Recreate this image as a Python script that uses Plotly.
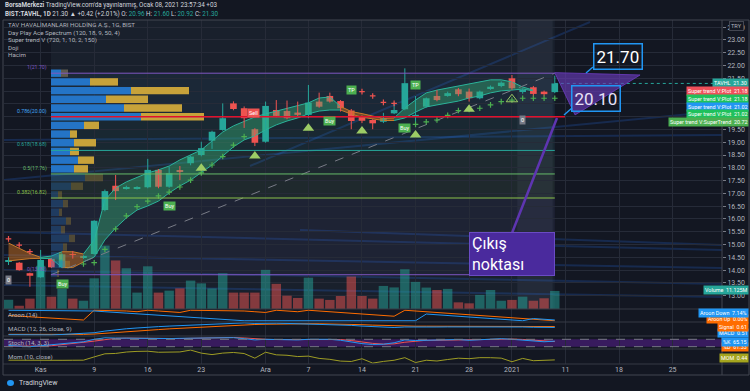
import plotly.graph_objects as go

# ---------------- data ----------------
bar_index = list(range(-3, 49))
open_ = [14.35, 14.29, 13.88, 13.72, 14.44, 14.11, 14.62, 14.50, 14.63, 16.35,
         17.30, 17.19, 17.20, 17.24, 17.92, 17.26, 17.88, 18.18, 18.50, 19.06,
         19.48, 20.52, 20.33, 19.51, 19.02, 20.26, 20.22, 20.16, 20.07, 20.59,
         20.81, 20.61, 20.24, 20.00, 19.87, 19.80, 20.13, 20.29, 20.00, 20.39,
         20.81, 20.81, 21.07, 20.98, 20.72, 21.11, 21.20, 21.50, 20.98, 21.15,
         20.98, 20.96]
high = [14.50, 14.32, 13.90, 14.79, 14.47, 14.65, 14.75, 14.58, 15.95, 17.15,
        17.72, 17.30, 17.28, 18.35, 17.95, 18.05, 18.07, 18.48, 19.02, 19.45,
        20.52, 20.60, 20.40, 19.55, 20.59, 20.65, 20.63, 20.59, 21.24, 20.94,
        20.94, 20.65, 20.30, 20.05, 19.90, 20.15, 20.56, 21.89, 20.81, 20.75,
        21.04, 20.98, 21.12, 21.10, 21.02, 21.22, 21.38, 21.63, 21.10, 21.20,
        21.02, 21.60]
low = [14.20, 13.98, 13.35, 13.70, 14.08, 14.08, 14.45, 14.44, 14.60, 16.30,
       16.74, 17.15, 17.15, 17.20, 17.20, 17.22, 17.52, 18.10, 18.45, 18.74,
       19.45, 20.25, 19.56, 18.85, 18.98, 19.98, 19.90, 20.02, 19.94, 20.35,
       20.55, 20.20, 19.51, 19.75, 19.51, 19.75, 20.10, 20.25, 19.68, 20.35,
       20.60, 20.78, 20.80, 20.59, 20.68, 21.05, 21.15, 21.05, 20.90, 20.78,
       20.80, 20.92]
close = [14.36, 14.00, 13.78, 14.40, 14.11, 14.62, 14.60, 14.52, 15.93, 17.09,
         17.09, 17.23, 17.24, 17.92, 17.26, 17.79, 17.86, 18.44, 18.77, 19.41,
         19.94, 20.30, 19.94, 18.98, 20.42, 20.03, 19.94, 20.07, 20.55, 20.39,
         20.59, 20.33, 19.83, 19.84, 19.74, 19.94, 20.26, 21.31, 20.07, 20.72,
         20.65, 20.92, 20.88, 20.72, 20.98, 21.17, 21.33, 21.11, 21.04, 20.89,
         20.88, 21.30]
volume_m = [5.7, 2.0, 6.4, 26.6, 7.6, 12.4, 6.4, 5.1, 18.9, 39.1,
            29.9, 25.1, 10.1, 26.3, 10.1, 11.3, 12.7, 17.5, 15.8, 12.7,
            22.0, 10.1, 10.1, 10.1, 24.1, 15.5, 8.2, 6.8, 19.3, 6.4,
            5.6, 8.0, 20.0, 8.0, 6.4, 14.2, 13.3, 24.5, 16.7, 13.2,
            11.7, 12.4, 4.1, 3.5, 8.7, 11.7, 5.1, 5.6, 7.6, 5.1,
            6.6, 11.125]

tick_index = [0, 5, 10, 15, 21, 25, 30, 35, 40, 44, 49, 54, 59]
tick_text = ["Kas", "9", "16", "23", "Ara", "7", "14", "21", "28", "2021", "11", "18", "25"]
price_ticks = [13.0, 13.5, 14.0, 14.5, 15.0, 15.5, 16.0, 16.5, 17.0, 17.5, 18.0,
               18.5, 19.0, 19.5, 20.0, 20.5, 21.0, 21.5, 22.0, 22.5, 23.0, 23.5]

# ribbon (Day Play Ace Spectrum)
rib_idx = list(range(-3, 47))
rib_up = [15.06, 14.85, 14.65, 14.50, 14.55, 14.72, 14.72, 14.63, 15.18, 16.74,
          17.21, 17.45, 17.64, 17.80, 17.92, 18.07, 18.31, 18.50, 18.70, 19.05,
          19.40, 19.64, 19.83, 19.99, 20.11, 20.22, 20.30, 20.42, 20.54, 20.73,
          20.77, 20.40, 20.20, 20.12, 20.02, 19.93, 19.95, 20.34, 20.65, 20.93,
          21.04, 21.12, 21.20, 21.28, 21.36, 21.44, 21.44, 21.36, 21.16, 21.04]
rib_lo = [14.36, 14.40, 14.45, 14.46, 14.45, 14.10, 14.10, 14.32, 14.51, 15.18,
          15.65, 16.04, 16.35, 16.51, 16.70, 17.02, 17.29, 17.52, 17.80, 18.11,
          18.46, 18.82, 19.09, 19.25, 19.48, 19.68, 19.83, 19.95, 20.11, 20.22,
          20.26, 20.26, 20.10, 19.98, 19.90, 19.85, 19.85, 19.95, 20.18, 20.38,
          20.46, 20.54, 20.61, 20.73, 20.81, 20.93, 21.01, 21.04, 21.08, 21.01]
rib_state = ["d", "d", "d", "u", "u", "d", "d", "u", "u", "u",
             "u", "u", "u", "u", "u", "u", "u", "u", "u", "u",
             "u", "u", "u", "u", "u", "u", "u", "u", "u", "u",
             "u", "d", "d", "d", "d", "d", "u", "u", "u", "u",
             "u", "u", "u", "u", "u", "u", "u", "u", "u", "u"]

# super trend trailing stops
stop_up_idx = [4, 5, 6, 7, 8, 9, 10, 11, 12, 13, 14, 15, 16, 17, 18, 19,
               34, 35, 36, 37, 38, 39, 40, 41, 42, 43, 44, 45, 46, 47, 48]
stop_up = [14.24, 14.29, 14.81, 15.61, 16.12, 16.48, 16.70, 16.90, 17.05, 17.25,
           17.52, 17.80, 18.11, 18.44, 18.89, 19.22,
           19.60, 19.70, 19.80, 19.87, 20.05, 20.24, 20.28, 20.33, 20.46, 20.59,
           20.65, 20.72, 20.72, 20.72, 20.72]
stop_dn_idx = [-3, -2, -1, 30, 31, 32, 33]
stop_dn = [15.22, 14.98, 14.72, 20.98, 20.81, 20.56, 20.52]

tri_idx = [15, 20, 25, 30, 35, 40]
tri_price = [17.98, 18.46, 19.55, 19.44, 19.28, 20.29]
tri_hollow_idx = [44]
tri_hollow_price = [20.68]

buy_idx = [2, 12, 27, 34]
buy_price = [13.46, 16.52, 19.83, 19.57]
tp_idx = [29, 35]
tp_price = [21.04, 21.24]
sell_idx = [19.9]
sell_price = [20.13]
zero_idx = [-3, 45]
zero_price = [13.61, 19.87]

# fibonacci retracement
fib_anchor_idx = [0.96, 48.0]
fib_ratio = ["1", "0.786", "0.618", "0.5", "0.382", "0"]
fib_price = [21.70, 20.00, 18.68, 17.76, 16.82, 13.82]
fib_color = ["#7e57c2", "#42a5f5", "#26a69a", "#66bb6a", "#8bc34a", "#7e57c2"]

# volume profile
vp_price = [21.70, 21.36, 21.02, 20.68, 20.34, 20.00, 19.66, 19.32, 18.98, 18.64,
            18.30, 17.96, 17.62, 17.28, 16.94, 16.60, 16.26, 15.92, 15.58, 15.24,
            14.90, 14.56, 14.22, 13.88]
vp_up = [10, 39, 80, 55, 73, 90, 33, 19, 23, 19, 27, 23, 34, 20, 7, 12, 8, 15, 10, 18, 12, 8, 14, 6]
vp_dn = [7, 28, 58, 42, 58, 63, 15, 7, 22, 9, 16, 14, 18, 12, 4, 5, 3, 5, 4, 6, 4, 3, 5, 2]
vp_value_area_rows = 12
poc_price = 20.00

# faint blue trend rays (drawn lines), pixel anchors
ray_x0 = [4, 4, 4, 4, 250, 300, 4, 4]
ray_y0 = [232, 255, 285, 140, 166, 230, 180, 270]
ray_x1 = [722, 722, 722, 722, 590, 722, 722, 722]
ray_y1 = [250, 268, 297, 135, 22, 245, 111, 284]

# indicators
aroon_up = [50, 43, 36, 29, 21, 21, 14, 7, 100, 100, 100, 93, 86, 100, 93, 86, 79,
            100, 100, 100, 100, 100, 93, 86, 79, 100, 93, 86, 100, 93, 86, 79, 71,
            64, 57, 50, 43, 100, 93, 86, 79, 71, 64, 57, 50, 43, 36, 29, 21, 14, 7, 0]
aroon_down = [100, 100, 100, 100, 100, 100, 100, 100, 93, 86, 79, 71, 64, 57, 50, 43,
              36, 29, 21, 14, 7, 0, 0, 0, 0, 0, 0, 0, 0, 0, 0, 0, 0, 0, 0, 0, 0, 0,
              0, 64, 57, 50, 43, 36, 29, 21, 14, 7, 0, 21, 14, 7.14]
macd = [-0.30, -0.32, -0.36, -0.35, -0.33, -0.28, -0.24, -0.20, -0.08, 0.10,
        0.25, 0.36, 0.45, 0.56, 0.60, 0.66, 0.71, 0.77, 0.83, 0.90,
        0.97, 1.02, 1.02, 0.96, 1.00, 0.99, 0.96, 0.93, 0.93, 0.90,
        0.87, 0.82, 0.74, 0.66, 0.58, 0.52, 0.50, 0.56, 0.54, 0.55,
        0.56, 0.57, 0.58, 0.56, 0.56, 0.57, 0.59, 0.57, 0.56, 0.53,
        0.50, 0.51]
macd_signal = [-0.26, -0.27, -0.29, -0.30, -0.31, -0.30, -0.29, -0.27, -0.23, -0.16,
               -0.08, 0.01, 0.10, 0.19, 0.27, 0.35, 0.42, 0.49, 0.55, 0.62,
               0.69, 0.75, 0.81, 0.84, 0.87, 0.90, 0.91, 0.92, 0.92, 0.92,
               0.91, 0.89, 0.86, 0.82, 0.77, 0.72, 0.68, 0.66, 0.65, 0.65,
               0.64, 0.64, 0.64, 0.64, 0.63, 0.63, 0.63, 0.63, 0.62, 0.62,
               0.61, 0.61]
stoch_k = [30, 25, 20, 28, 35, 45, 55, 60, 80, 92, 90, 88, 87, 90, 85, 86, 88, 90,
           92, 94, 95, 93, 85, 75, 80, 78, 76, 75, 80, 82, 80, 72, 58, 45, 38, 40,
           52, 75, 70, 72, 74, 76, 78, 72, 75, 80, 85, 80, 72, 65, 60, 65.15]
stoch_d = [25, 24, 25, 24, 28, 36, 45, 53, 65, 77, 87, 90, 88, 88, 87, 87, 86, 88,
           90, 92, 94, 94, 91, 84, 80, 78, 78, 76, 77, 79, 81, 78, 70, 58, 47, 41,
           43, 56, 66, 72, 72, 74, 76, 75, 75, 76, 80, 82, 79, 72, 66, 61.33]
mom = [0.35, 0.30, 0.28, 0.30, 0.32, 0.30, 0.33, 0.35, 1.50, 2.60,
       2.73, 3.23, 3.46, 3.52, 3.15, 3.17, 3.26, 3.92, 2.84, 2.32,
       2.85, 3.07, 2.70, 1.06, 3.16, 2.24, 2.08, 1.63, 1.78, 0.98,
       0.65, 0.03, -0.11, 0.86, -0.68, -0.09, 0.32, 1.24, -0.48, 0.33,
       0.06, 0.59, 1.05, 0.88, 1.24, 1.23, 1.07, -0.20, 0.97, 0.17,
       0.23, 0.44]

# ---------------- layout helpers ----------------
W, H = 750, 391
def fx(px):
    return px / W
def fy(py):
    return 1 - py / H

BG = "#131722"
GRID = "#262b38"
TXT = "#b2b5be"
UPC = "#26a69a"
DNC = "#ef5350"
FONT = "Roboto"

fig = go.Figure()

is_up = [c >= o for o, c in zip(open_, close)]

# volume (base axis y)
vol_colors = ["rgba(38,166,154,0.5)" if u else "rgba(239,83,80,0.5)" for u in is_up]
fig.add_trace(go.Bar(x=bar_index, y=volume_m, marker=dict(color=vol_colors, line=dict(width=0)),
                     width=0.88, xaxis="x", yaxis="y", hoverinfo="skip"))

# ribbon segments
segs = []
s = 0
for i in range(1, len(rib_idx)):
    if rib_state[i] != rib_state[s]:
        segs.append((s, i, rib_state[s]))
        s = i
segs.append((s, len(rib_idx) - 1, rib_state[s]))
for a, b, st in segs:
    xs = rib_idx[a:b + 1]
    if st == "u":
        fillc, linec = "rgba(56,176,120,0.42)", "#2bb39a"
    else:
        fillc, linec = "rgba(200,110,30,0.5)", "#c77a2a"
    fig.add_trace(go.Scatter(x=xs, y=rib_lo[a:b + 1], mode="lines", line=dict(color=linec, width=1),
                             xaxis="x", yaxis="y2", hoverinfo="skip"))
    fig.add_trace(go.Scatter(x=xs, y=rib_up[a:b + 1], mode="lines", line=dict(color=linec, width=1),
                             fill="tonexty", fillcolor=fillc, xaxis="x", yaxis="y2", hoverinfo="skip"))

# fib diagonal
fig.add_trace(go.Scatter(x=fib_anchor_idx, y=[fib_price[-1], fib_price[0]], mode="lines",
                         line=dict(color="#787b86", width=1, dash="dash"), xaxis="x", yaxis="y2",
                         hoverinfo="skip"))

# candles: wicks + bodies
for up, col in ((True, UPC), (False, DNC)):
    wx, wy = [], []
    bx, bb, bh = [], [], []
    for i, o, h, l, c, u in zip(bar_index, open_, high, low, close, is_up):
        if u != up:
            continue
        wx += [i, i, None]
        wy += [l, h, None]
        bx.append(i)
        bb.append(min(o, c))
        bh.append(max(abs(c - o), 0.03))
    fig.add_trace(go.Scatter(x=wx, y=wy, mode="lines", line=dict(color=col, width=1),
                             xaxis="x", yaxis="y2", hoverinfo="skip"))
    fig.add_trace(go.Bar(x=bx, y=bh, base=bb, width=0.62, marker=dict(color=col, line=dict(width=0)),
                         xaxis="x", yaxis="y2", hoverinfo="skip"))

# super trend dots
fig.add_trace(go.Scatter(x=stop_up_idx, y=stop_up, mode="markers",
                         marker=dict(symbol="cross-thin", size=4, line=dict(color="#4caf50", width=1.2)),
                         xaxis="x", yaxis="y2", hoverinfo="skip"))
fig.add_trace(go.Scatter(x=stop_dn_idx, y=stop_dn, mode="markers",
                         marker=dict(symbol="cross-thin", size=4, line=dict(color="#ef5350", width=1.2)),
                         xaxis="x", yaxis="y2", hoverinfo="skip"))
# triangles
fig.add_trace(go.Scatter(x=tri_idx, y=tri_price, mode="markers",
                         marker=dict(symbol="triangle-up", size=10, color="#9ccc65"),
                         xaxis="x", yaxis="y2", hoverinfo="skip"))
fig.add_trace(go.Scatter(x=tri_hollow_idx, y=tri_hollow_price, mode="markers",
                         marker=dict(symbol="triangle-up-open", size=10, color="#9ccc65",
                                     line=dict(width=1)),
                         xaxis="x", yaxis="y2", hoverinfo="skip"))

# volume profile
vp_up_col = ["#2474c6" if k < vp_value_area_rows else "rgba(36,116,198,0.3)" for k in range(len(vp_price))]
vp_dn_col = ["#c7a23a" if k < vp_value_area_rows else "rgba(199,162,58,0.3)" for k in range(len(vp_price))]
vp_dn_col[0] = "#5d5a50"
fig.add_trace(go.Bar(y=vp_price, x=vp_up, base=0, orientation="h", width=0.29,
                     marker=dict(color=vp_up_col, line=dict(width=0)), xaxis="x2", yaxis="y2",
                     hoverinfo="skip"))
fig.add_trace(go.Bar(y=vp_price, x=vp_dn, base=vp_up, orientation="h", width=0.29,
                     marker=dict(color=vp_dn_col, line=dict(width=0)), xaxis="x2", yaxis="y2",
                     hoverinfo="skip"))

# indicator panes
fig.add_trace(go.Scatter(x=bar_index, y=aroon_up, mode="lines", line=dict(color="#ff6d00", width=1),
                         xaxis="x", yaxis="y3", hoverinfo="skip"))
fig.add_trace(go.Scatter(x=bar_index, y=aroon_down, mode="lines", line=dict(color="#2196f3", width=1),
                         xaxis="x", yaxis="y3", hoverinfo="skip"))
fig.add_trace(go.Scatter(x=bar_index, y=macd_signal, mode="lines", line=dict(color="#ff6d00", width=1),
                         xaxis="x", yaxis="y4", hoverinfo="skip"))
fig.add_trace(go.Scatter(x=bar_index, y=macd, mode="lines", line=dict(color="#2196f3", width=1),
                         xaxis="x", yaxis="y4", hoverinfo="skip"))
fig.add_trace(go.Scatter(x=bar_index, y=stoch_d, mode="lines", line=dict(color="#ef5350", width=1),
                         xaxis="x", yaxis="y5", hoverinfo="skip"))
fig.add_trace(go.Scatter(x=bar_index, y=stoch_k, mode="lines", line=dict(color="#2196f3", width=1),
                         xaxis="x", yaxis="y5", hoverinfo="skip"))
fig.add_trace(go.Scatter(x=bar_index, y=mom, mode="lines", line=dict(color="#9e9d24", width=1),
                         xaxis="x", yaxis="y6", hoverinfo="skip"))

shapes = []
# lighter zone of the profile range
shapes.append(dict(type="rect", xref="x", yref="paper", x0=fib_anchor_idx[0], x1=fib_anchor_idx[1],
                   y0=fy(309), y1=fy(20), fillcolor="rgba(120,150,180,0.07)", line=dict(width=0),
                   layer="below"))
shapes.append(dict(type="rect", xref="x", yref="paper", x0=44.5, x1=47.8,
                   y0=fy(309), y1=fy(20), fillcolor="rgba(150,170,200,0.08)", line=dict(width=0),
                   layer="below"))
# faint rays
for x0, y0, x1, y1 in zip(ray_x0, ray_y0, ray_x1, ray_y1):
    shapes.append(dict(type="line", xref="paper", yref="paper", x0=fx(x0), y0=fy(y0), x1=fx(x1), y1=fy(y1),
                       line=dict(color="rgba(41,121,255,0.2)", width=2), layer="below"))
# fib lines and fills
for i, (r, p, c) in enumerate(zip(fib_ratio, fib_price, fib_color)):
    shapes.append(dict(type="line", xref="x", yref="y2", x0=fib_anchor_idx[0], x1=fib_anchor_idx[1],
                       y0=p, y1=p, line=dict(color=c, width=1)))
    if i + 1 < len(fib_price):
        shapes.append(dict(type="rect", xref="x", yref="y2", x0=fib_anchor_idx[0], x1=fib_anchor_idx[1],
                           y0=fib_price[i + 1], y1=p, fillcolor=fib_color[i + 1], opacity=0.06,
                           line=dict(width=0), layer="below"))
# POC line
shapes.append(dict(type="line", xref="x", yref="y2", x0=fib_anchor_idx[0], x1=48.95, y0=poc_price, y1=poc_price,
                   line=dict(color="#e3102a", width=1.5)))
# last price dotted line
shapes.append(dict(type="line", xref="x", yref="y2", x0=48, x1=63.6, y0=close[-1], y1=close[-1],
                   line=dict(color=UPC, width=1, dash="dot")))
# stoch band
shapes.append(dict(type="rect", xref="paper", yref="y5", x0=fx(4), x1=fx(722), y0=20, y1=80,
                   fillcolor="rgba(126,34,206,0.35)", line=dict(width=0), layer="below"))
for lv in (20, 80):
    shapes.append(dict(type="line", xref="paper", yref="y5", x0=fx(4), x1=fx(722), y0=lv, y1=lv,
                       line=dict(color="#787b86", width=1, dash="dash")))
# pane separators and frame
for yy in (309, 322, 336, 349, 364):
    shapes.append(dict(type="line", xref="paper", yref="paper", x0=fx(3), x1=fx(749), y0=fy(yy), y1=fy(yy),
                       line=dict(color="#363a45", width=1)))
shapes.append(dict(type="rect", xref="paper", yref="paper", x0=fx(3), x1=fx(749), y0=fy(375), y1=fy(20),
                   line=dict(color="#434651", width=1)))
shapes.append(dict(type="line", xref="paper", yref="paper", x0=fx(722), x1=fx(722), y0=fy(375), y1=fy(20),
                   line=dict(color="#434651", width=1)))
# drawn purple triangle
tri_draw_idx = [48.0, 55.96, 49.89]
tri_draw_price = [21.72, 21.63, 20.07]
path = "M {} {} L {} {} L {} {} Z".format(tri_draw_idx[0], tri_draw_price[0], tri_draw_idx[1],
                                          tri_draw_price[1], tri_draw_idx[2], tri_draw_price[2])
shapes.append(dict(type="path", xref="x", yref="y2", path=path, fillcolor="rgba(103,58,183,0.65)",
                   line=dict(color="rgba(103,58,183,0.9)", width=1)))
# callout pointers
shapes.append(dict(type="line", xref="paper", yref="paper", x0=fx(512), y0=fy(233), x1=fx(557), y1=fy(118),
                   line=dict(color="#5e35b1", width=2.5)))
shapes.append(dict(type="line", xref="paper", yref="paper", x0=fx(593), y0=fy(67), x1=fx(586), y1=fy(73),
                   line=dict(color="#2196f3", width=1.5)))
shapes.append(dict(type="line", xref="paper", yref="paper", x0=fx(572), y0=fy(108), x1=fx(564), y1=fy(115),
                   line=dict(color="#2196f3", width=1.5)))
# TradingView logo blob
shapes.append(dict(type="circle", xref="paper", yref="paper", x0=fx(7), x1=fx(14), y0=fy(386), y1=fy(380),
                   fillcolor="#2196f3", line=dict(width=0)))

ann = []
def text(x, y, s, size=6.5, color=TXT, xanchor="left", **kw):
    ann.append(dict(x=fx(x), y=fy(y), xref="paper", yref="paper", text=s, showarrow=False,
                    xanchor=xanchor, yanchor="middle", font=dict(size=size, color=color, family=FONT), **kw))

text(3, 5, "<b>BorsaMerkezi</b> TradingView.com'da yayınlanmış, Ocak 08, 2021 23:57:34 +03", 6.3, "#d1d4dc")
g = "<span style='color:#26a69a'>{}</span>"
text(3, 14, "<b>BIST:TAVHL, 1D</b> 21.30 ▲ +0.42 (+2.01%) O: " + g.format("20.96") + " H: " + g.format("21.60")
     + " L: " + g.format("20.92") + " C: " + g.format("21.30"), 6.3, "#d1d4dc")
for yy, s in [(25, "TAV HAVALİMANLARI HOLDİNG A.Ş., 1G, BIST"), (33, "Day Play Ace Spectrum (120, 18, 9, 50, 4)"),
              (40, "Super trend V (720, 1, 10, 2, 150)"), (48, "Doji"), (55, "Hacim")]:
    text(6, yy, s, 6.2, TXT)
# fib labels
for r, p, c in zip(fib_ratio, fib_price, fib_color):
    ann.append(dict(x=fib_anchor_idx[0] - 0.15, y=p, xref="x", yref="y2", text="{}({:.2f})".format(r, p),
                    showarrow=False, xanchor="right", yanchor="bottom",
                    font=dict(size=5.2, color=c, family=FONT)))
# pane titles
for yy, s in [(315, "Aroon (14)"), (329, "MACD (12, 26, close, 9)"), (343, "Stoch (14, 3, 3)"),
              (357, "Mom (10, close)")]:
    text(6, yy, s, 6.2, TXT)
# signal labels
def lab(i, p, s, col, ya):
    ann.append(dict(x=i, y=p, xref="x", yref="y2", text=s, showarrow=False, bgcolor=col,
                    font=dict(size=5.5, color="white", family=FONT), borderpad=1, yanchor=ya))
for i, p in zip(buy_idx, buy_price):
    lab(i, p, "Buy", "#4caf50", "middle")
for i, p in zip(tp_idx, tp_price):
    lab(i, p, "TP", "#4caf50", "middle")
for i, p in zip(sell_idx, sell_price):
    lab(i, p, "Sell", "#ef5350", "middle")
for i, p in zip(zero_idx, zero_price):
    lab(i, p, "0", "#787b86", "middle")

# right tags
def tag(s, col, y):
    ann.append(dict(x=fx(749), y=fy(y), xref="paper", yref="paper", text=s, showarrow=False,
                    xanchor="right", yanchor="middle", bgcolor=col, borderpad=1,
                    font=dict(size=5.4, color="white", family=FONT)))
tag("TAVHL  21.30", "#26a69a", 83)
tag("Super trend V:Plot  21.18", "#f0505a", 91)
tag("Super trend V:Plot  21.18", "#1fc15c", 99)
tag("Super trend V:Plot  21.02", "#2196f3", 106.7)
tag("Super trend V:Plot  21.02", "#1fc15c", 114.3)
tag("Super trend V:SuperTrend  20.72", "#4caf50", 122)
tag("Volume  11.125M", "#26a69a", 290)
tag("Aroon Up  0.00%", "#ff6d00", 318.5)
tag("Aroon Down  7.14%", "#2196f3", 312.7)
tag("MACD  0.51", "#2196f3", 332.5)
tag("Signal  0.61", "#ff6d00", 327)
tag("%D  61.33", "#ff6d00", 347)
tag("%K  65.15", "#2196f3", 341.7)
tag("MOM  0.44", "#a5a51e", 358.3)
ann.append(dict(x=fx(736), y=fy(26), xref="paper", yref="paper", text="TRY", showarrow=False,
                xanchor="center", yanchor="middle", bgcolor=BG, bordercolor="#434651", borderwidth=1,
                borderpad=1, font=dict(size=5.6, color=TXT, family=FONT)))
# big drawn labels
ann.append(dict(x=fx(618), y=fy(57), xref="paper", yref="paper", text="21.70", showarrow=False,
                xanchor="center", yanchor="middle", bordercolor="#2196f3", borderwidth=1.5, borderpad=2,
                font=dict(size=17, color="#ffffff", family=FONT)))
ann.append(dict(x=fx(596), y=fy(98.5), xref="paper", yref="paper", text="20.10", showarrow=False,
                xanchor="center", yanchor="middle", bordercolor="#2196f3", borderwidth=1.5, borderpad=2,
                font=dict(size=17, color="#e6e1f7", family=FONT)))
ann.append(dict(x=fx(469), y=fy(253.5), xref="paper", yref="paper", text="Çıkış<br>noktası",
                showarrow=False, xanchor="left", yanchor="middle", align="left", width=80, height=38,
                bgcolor="#4a2a9d", bordercolor="#6a4bc4", borderwidth=1, borderpad=2,
                font=dict(size=16, color="#ffffff", family=FONT)))
text(17, 383, "TradingView", 7, "#d1d4dc")

fig.update_layout(
    width=W, height=H, margin=dict(l=0, r=0, t=0, b=0),
    paper_bgcolor=BG, plot_bgcolor=BG, showlegend=False, barmode="overlay",
    font=dict(family=FONT, size=7, color=TXT),
    shapes=shapes, annotations=ann,
    xaxis=dict(domain=[fx(4), fx(722)], range=[-3.42, 63.61], anchor="free", position=fy(364),
               tickvals=tick_index, ticktext=tick_text, showgrid=True, gridcolor=GRID, zeroline=False,
               showline=False, ticks="", tickfont=dict(size=7, color=TXT), fixedrange=True),
    xaxis2=dict(overlaying="x", anchor="y2", range=[-47, 671], visible=False, fixedrange=True),
    yaxis=dict(domain=[fy(309), fy(20)], range=[0, 178], visible=False, anchor="x", fixedrange=True),
    yaxis2=dict(overlaying="y", side="right", anchor="x", range=[12.48, 23.78], tickvals=price_ticks,
                ticktext=["{:.2f}".format(v) for v in price_ticks], showgrid=True, gridcolor=GRID,
                zeroline=False, ticks="outside", ticklen=3, tickcolor="#787b86",
                tickfont=dict(size=7, color=TXT), showline=False, fixedrange=True),
    yaxis3=dict(domain=[fy(322), fy(309)], range=[-12, 112], anchor="x", visible=False, fixedrange=True),
    yaxis4=dict(domain=[fy(336), fy(322)], range=[-0.45, 1.12], anchor="x", visible=False, fixedrange=True),
    yaxis5=dict(domain=[fy(349), fy(336)], range=[1.4, 106.7], anchor="x", visible=False, fixedrange=True),
    yaxis6=dict(domain=[fy(364), fy(349)], range=[-1, 4.3], anchor="x", visible=False, fixedrange=True),
)

fig.write_html("out.html", config={"displayModeBar": False},
               post_script="document.body.style.margin='0';document.body.style.overflow='hidden';"
                           "document.body.style.background='#131722';")
